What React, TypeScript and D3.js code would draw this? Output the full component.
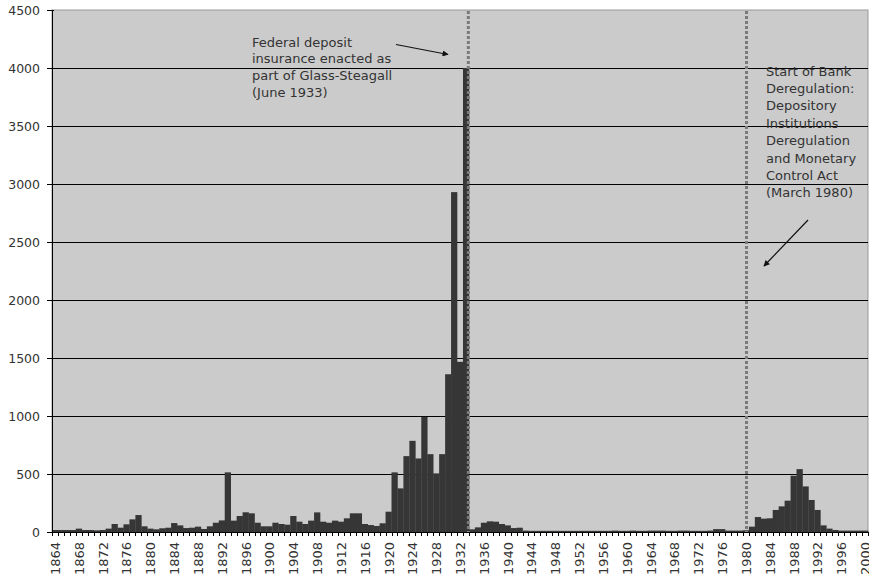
import React from "react";
import * as d3 from "d3";

const years: number[] = d3.range(1864, 2001);
const failures: number[] = [
  17, 17, 17, 17, 29, 17, 17, 14, 17, 29, // 1864-1873
  69, 37, 66, 109, 146, 49, 29, 23, 32, 37, // 1874-1883
  77, 57, 34, 37, 46, 26, 49, 80, 100, 514, // 1884-1893
  98, 138, 170, 161, 80, 49, 49, 80, 69, 63, // 1894-1903
  138, 89, 69, 98, 169, 89, 80, 98, 89, 118, // 1904-1913
  161, 161, 69, 60, 52, 75, 175, 514, 376, 654, // 1914-1923
  786, 634, 993, 671, 505, 671, 1360, 2930, 1467, 4000, // 1924-1933
  23, 40, 80, 92, 89, 69, 57, 34, 37, 12, // 1934-1943
  10, 10, 10, 10, 10, 10, 10, 10, 10, 10, // 1944-1953
  10, 10, 10, 10, 12, 10, 10, 12, 10, 10, // 1954-1963
  12, 12, 12, 10, 10, 12, 12, 10, 10, 10, // 1964-1973
  12, 25, 25, 12, 12, 12, 15, 46, 129, 115, // 1974-1983
  118, 190, 221, 270, 485, 542, 393, 276, 190, 57, // 1984-1993
  29, 17, 12, 12, 12, 12, 12, // 1994-2000
];
const yTicks: number[] = [0, 500, 1000, 1500, 2000, 2500, 3000, 3500, 4000, 4500];
const labelYears: number[] = d3.range(1864, 2001, 4);
const eventYears: number[] = [1933, 1980];
const note1: string[] = ["Federal deposit", "insurance enacted as", "part of Glass-Steagall", "(June 1933)"];
const note2: string[] = ["Start of Bank", "Deregulation:", "Depository", "Institutions", "Deregulation", "and Monetary", "Control Act", "(March 1980)"];

const W = 869, H = 580;
const L = 52, R = 868, T = 10, B = 532;
const FONT = "DejaVu Sans, Verdana, sans-serif";

export default function App() {
  const x = d3.scaleBand<number>().domain(years).range([L, R]).padding(0);
  const y = d3.scaleLinear().domain([0, 4500]).range([B, T]);
  const bw = x.bandwidth();
  const evX = [x(eventYears[0])! + bw * 0.9, x(eventYears[1])! + bw * 0.6];

  return (
    <svg width={W} height={H} style={{ position: "absolute", left: 0, top: 0, background: "#fff" }}>
      <defs>
        <marker id="ah" viewBox="0 0 10 10" refX="9" refY="5" markerWidth="8" markerHeight="6" orient="auto" markerUnits="userSpaceOnUse">
          <path d="M0,0 L10,5 L0,10 z" fill="#111" />
        </marker>
      </defs>
      <rect x={L} y={T} width={R - L} height={B - T} fill="#cbcbcb" stroke="#9a9a9a" strokeWidth={1} />
      {yTicks.filter((t) => t > 0 && t < 4500).map((t) => (
        <line key={"g" + t} x1={L} x2={R} y1={Math.round(y(t)) + 0.5} y2={Math.round(y(t)) + 0.5} stroke="#000" strokeWidth={1} />
      ))}
      {years.map((yr, i) => (
        <rect key={"b" + yr} x={x(yr)!} y={y(failures[i])} width={bw + 0.3} height={B - y(failures[i])} fill="#363636" />
      ))}
      {evX.map((ex, i) => (
        <line key={"ev" + i} x1={ex} x2={ex} y1={T + 1} y2={B} stroke="#7a7a7a" strokeWidth={3} strokeDasharray="3 2" />
      ))}
      <line x1={L + 0.5} x2={L + 0.5} y1={T} y2={B} stroke="#000" strokeWidth={1} />
      {yTicks.map((t) => (
        <line key={"yt" + t} x1={L - 5} x2={L + 2} y1={Math.round(y(t)) + 0.5} y2={Math.round(y(t)) + 0.5} stroke="#000" strokeWidth={1} />
      ))}
      <line x1={L - 5} x2={R} y1={B + 0.5} y2={B + 0.5} stroke="#000" strokeWidth={1} />
      {years.concat([2001]).map((yr) => {
        const xx = Math.round(yr === 2001 ? R : x(yr)!) + 0.5;
        return <line key={"xt" + yr} x1={xx} x2={xx} y1={B} y2={B + 4} stroke="#000" strokeWidth={1} />;
      })}
      {yTicks.map((t) => (
        <text key={"yl" + t} x={40} y={y(t)} textAnchor="end" dominantBaseline="central" fontFamily={FONT} fontSize={12.5} fill="#333">
          {t}
        </text>
      ))}
      {labelYears.map((yr) => (
        <text key={"xl" + yr} transform={`translate(${x(yr)! + bw / 2 + 0.5},542) rotate(-90)`} textAnchor="end" dominantBaseline="central" fontFamily={FONT} fontSize={13} fill="#333">
          {yr}
        </text>
      ))}
      {note1.map((s, i) => (
        <text key={"n1" + i} x={252} y={42 + i * 16.7} dominantBaseline="central" fontFamily={FONT} fontSize={13} fill="#333">
          {s}
        </text>
      ))}
      {note2.map((s, i) => (
        <text key={"n2" + i} x={766} y={71 + i * 17.4} dominantBaseline="central" fontFamily={FONT} fontSize={13} fill="#333">
          {s}
        </text>
      ))}
      <line x1={396} y1={44.5} x2={448} y2={54.5} stroke="#111" strokeWidth={1.2} markerEnd="url(#ah)" />
      <line x1={808} y1={220} x2={764} y2={266} stroke="#111" strokeWidth={1.2} markerEnd="url(#ah)" />
    </svg>
  );
}
